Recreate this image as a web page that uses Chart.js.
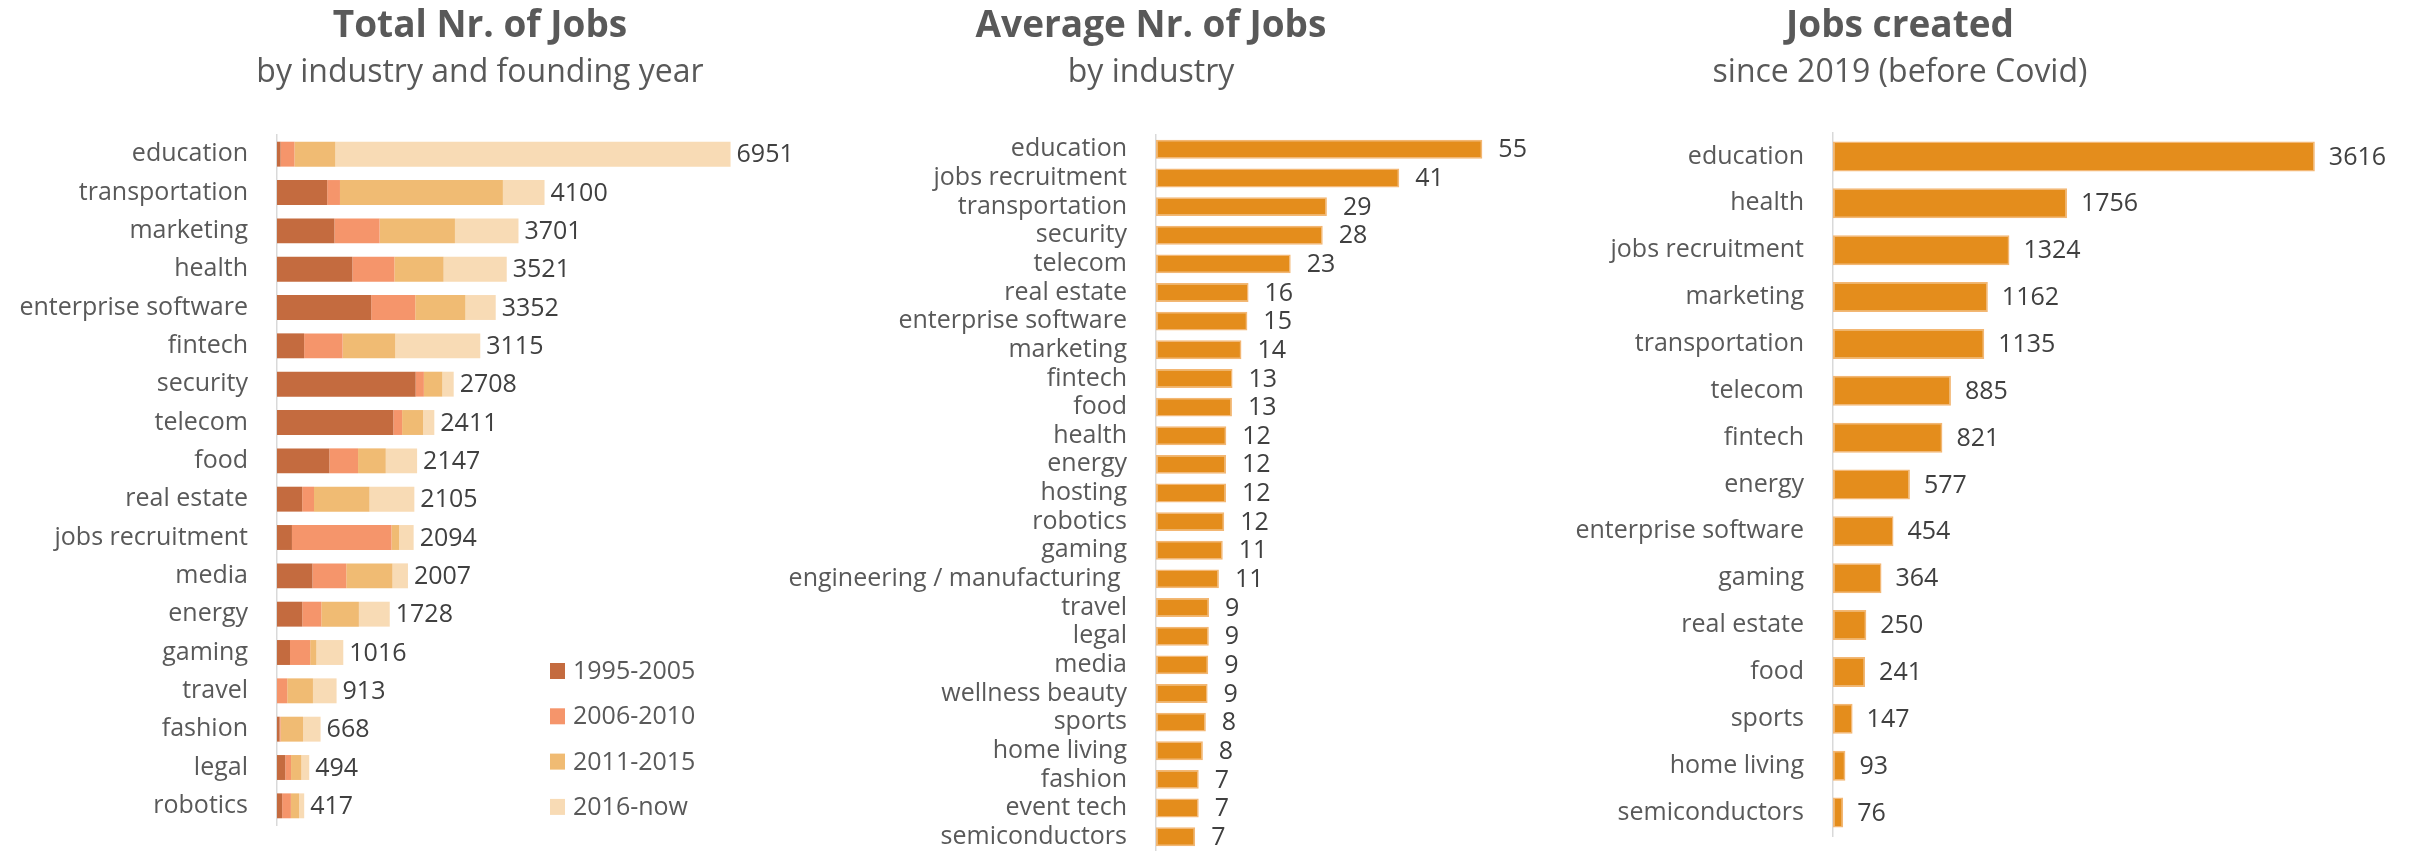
<!DOCTYPE html>
<html>
<head>
<meta charset="utf-8">
<script src="https://cdn.jsdelivr.net/npm/chart.js@4.4.1/dist/chart.umd.min.js"></script>
<style>
  html, body { margin: 0; padding: 0; background: #fff; }
  #page { position: relative; width: 2412px; height: 851px; overflow: hidden; }
  .panel { position: absolute; top: 0; height: 851px; }
</style>
</head>
<body>
<div id="page">
  <div class="panel" style="left:0; width:804px"><canvas id="totalChart"></canvas></div>
  <div class="panel" style="left:700px; width:908px"><canvas id="avgChart"></canvas></div>
  <div class="panel" style="left:1500px; width:912px"><canvas id="createdChart"></canvas></div>
</div>
<script>
// Total Nr. of Jobs, by industry and founding year
const totalCategories = ['education', 'transportation', 'marketing', 'health', 'enterprise software', 'fintech',
  'security', 'telecom', 'food', 'real estate', 'jobs recruitment', 'media', 'energy', 'gaming', 'travel',
  'fashion', 'legal', 'robotics'];
const foundingPeriods = ['1995-2005', '2006-2010', '2011-2015', '2016-now'];
const jobs1995to2005 = [55, 769, 880, 1155, 1444, 416, 2125, 1783, 802, 386, 229, 543, 387, 199, 0, 40, 127, 79];
const jobs2006to2010 = [212, 196, 692, 644, 675, 589, 126, 134, 440, 181, 1525, 519, 292, 310, 157, 15, 88, 134];
const jobs2011to2015 = [627, 2497, 1155, 754, 769, 808, 283, 322, 425, 851, 119, 708, 576, 95, 394, 345, 159, 126];
const jobs2016toNow = [6057, 638, 974, 968, 464, 1302, 174, 172, 480, 687, 221, 237, 473, 412, 362, 268, 120, 78];

// Average Nr. of Jobs, by industry
const avgCategories = ['education', 'jobs recruitment', 'transportation', 'security', 'telecom', 'real estate',
  'enterprise software', 'marketing', 'fintech', 'food', 'health', 'energy', 'hosting', 'robotics', 'gaming',
  'engineering / manufacturing ', 'travel', 'legal', 'media', 'wellness beauty', 'sports', 'home living',
  'fashion', 'event tech', 'semiconductors'];
const avgJobs = [55, 41, 28.8, 28.1, 22.7, 15.6, 15.4, 14.4, 12.9, 12.8, 11.85, 11.8, 11.8, 11.5, 11.25, 10.6,
  8.95, 8.9, 8.8, 8.7, 8.4, 7.9, 7.2, 7.2, 6.6];

// Jobs created since 2019 (before Covid)
const createdCategories = ['education', 'health', 'jobs recruitment', 'marketing', 'transportation', 'telecom',
  'fintech', 'energy', 'enterprise software', 'gaming', 'real estate', 'food', 'sports', 'home living',
  'semiconductors'];
const jobsCreated = [3616, 1756, 1324, 1162, 1135, 885, 821, 577, 454, 364, 250, 241, 147, 93, 76];

const FONT = "'Open Sans', 'Noto Sans', sans-serif";
const GREY = '#595959';
const periodColors = ['#C46B3F', '#F5956B', '#F0BB73', '#F8DBB5'];
const barOrange = '#E48D1C';

Chart.defaults.font.family = FONT;
Chart.defaults.color = GREY;

// Title + subtitle drawn above each panel
const headerPlugin = {
  id: 'header',
  afterDraw(chart, args, opts) {
    const ctx = chart.ctx;
    ctx.save();
    ctx.fillStyle = GREY;
    ctx.textAlign = 'center';
    ctx.textBaseline = 'alphabetic';
    ctx.font = 'bold 37px ' + FONT;
    ctx.fillText(opts.title, opts.x, 37);
    ctx.font = '32px ' + FONT;
    ctx.fillText(opts.subtitle, opts.x, 82);
    ctx.restore();
  }
};

// Value at the end of each bar (sum of the stack)
const valueLabelPlugin = {
  id: 'valueLabels',
  afterDatasetsDraw(chart, args, opts) {
    const ctx = chart.ctx;
    const datasets = chart.data.datasets;
    const meta = chart.getDatasetMeta(datasets.length - 1);
    ctx.save();
    ctx.fillStyle = '#404040';
    ctx.font = '25px ' + FONT;
    ctx.textAlign = 'left';
    ctx.textBaseline = 'middle';
    meta.data.forEach((bar, i) => {
      const total = datasets.reduce((s, d) => s + d.data[i], 0);
      ctx.fillText(Math.round(total).toString(), bar.x + opts.gap, bar.y + 1);
    });
    ctx.restore();
  }
};

// Legend with square markers inside the first panel
const periodLegendPlugin = {
  id: 'periodLegend',
  afterDraw(chart, args, opts) {
    if (!opts.show) return;
    const ctx = chart.ctx;
    ctx.save();
    ctx.font = '25px ' + FONT;
    ctx.textAlign = 'left';
    ctx.textBaseline = 'middle';
    chart.data.datasets.forEach((ds, i) => {
      const y = opts.y + i * opts.step;
      ctx.fillStyle = ds.backgroundColor;
      ctx.fillRect(opts.x, y - 8, 15, 16);
      ctx.fillStyle = GREY;
      ctx.fillText(ds.label, opts.x + 23, y + 1);
    });
    ctx.restore();
  }
};

function makeOptions(cfg) {
  return {
    indexAxis: 'y',
    responsive: true,
    maintainAspectRatio: false,
    animation: false,
    layout: { padding: { top: cfg.top, bottom: cfg.bottom, left: 0, right: cfg.right } },
    plugins: {
      legend: { display: false },
      tooltip: { enabled: false },
      header: { title: cfg.title, subtitle: cfg.subtitle, x: cfg.titleX },
      valueLabels: { gap: cfg.gap },
      periodLegend: cfg.legend || { show: false }
    },
    scales: {
      x: { display: false, min: 0, max: cfg.max, stacked: true },
      y: {
        stacked: true,
        afterFit(scale) {
          scale.width = cfg.axisX;
          scale.paddingTop = 0;
          scale.paddingBottom = 0;
        },
        grid: { display: false, drawTicks: false },
        border: { display: true, color: '#D9D9D9', width: 1.5 },
        ticks: { autoSkip: false, padding: 29, color: GREY, font: { size: 25 } }
      }
    }
  };
}

new Chart(document.getElementById('totalChart'), {
  type: 'bar',
  data: {
    labels: totalCategories,
    datasets: [jobs1995to2005, jobs2006to2010, jobs2011to2015, jobs2016toNow].map((values, i) => ({
      label: foundingPeriods[i],
      data: values,
      backgroundColor: periodColors[i],
      borderWidth: 0,
      categoryPercentage: 1,
      barPercentage: 0.65
    }))
  },
  options: makeOptions({
    top: 135, bottom: 26, right: 5, max: 8000, axisX: 277, gap: 6,
    title: 'Total Nr. of Jobs', subtitle: 'by industry and founding year', titleX: 480,
    legend: { show: true, x: 550, y: 671, step: 45.3 }
  }),
  plugins: [headerPlugin, valueLabelPlugin, periodLegendPlugin]
});

new Chart(document.getElementById('avgChart'), {
  type: 'bar',
  data: {
    labels: avgCategories,
    datasets: [{
      data: avgJobs,
      backgroundColor: barOrange,
      borderColor: '#F3B774',
      borderWidth: 1.5,
      borderSkipped: false,
      categoryPercentage: 1,
      barPercentage: 0.66
    }]
  },
  options: makeOptions({
    top: 135, bottom: 0, right: 96, max: 60, axisX: 456, gap: 16,
    title: 'Average Nr. of Jobs', subtitle: 'by industry', titleX: 451
  }),
  plugins: [headerPlugin, valueLabelPlugin, periodLegendPlugin]
});

new Chart(document.getElementById('createdChart'), {
  type: 'bar',
  data: {
    labels: createdCategories,
    datasets: [{
      data: jobsCreated,
      backgroundColor: barOrange,
      borderColor: '#F3B774',
      borderWidth: 1.5,
      borderSkipped: false,
      categoryPercentage: 1,
      barPercentage: 0.64
    }]
  },
  options: makeOptions({
    top: 133, bottom: 15, right: 46, max: 4000, axisX: 333, gap: 14,
    title: 'Jobs created', subtitle: 'since 2019 (before Covid)', titleX: 400
  }),
  plugins: [headerPlugin, valueLabelPlugin, periodLegendPlugin]
});
</script>
</body>
</html>
